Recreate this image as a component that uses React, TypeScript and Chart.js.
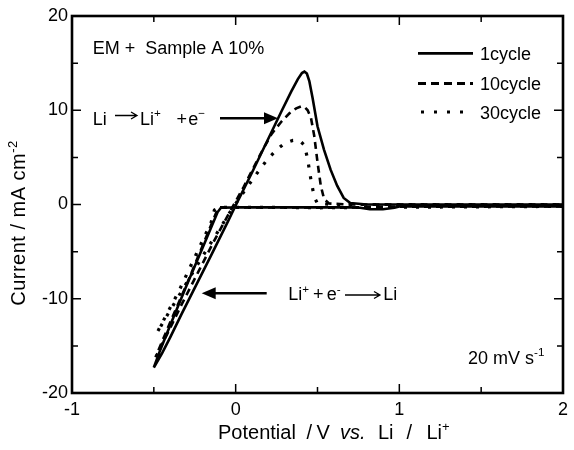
import React, { useEffect, useRef } from 'react';
import { Chart, registerables } from 'chart.js';

Chart.register(...registerables);

const FONT = '"Liberation Sans", Arial, Helvetica, sans-serif';

// 1 cycle (solid)
const potential1 = [2.0, 1.0, 0.97, 0.9, 0.82, 0.76, 0.7, 0.3, 0.0, -0.09, -0.11, -0.2, -0.3, -0.4, -0.46, -0.5, -0.45, -0.4, -0.33, -0.24, -0.15, -0.05, 0.0, 0.1, 0.2, 0.28, 0.34, 0.38, 0.405, 0.42, 0.435, 0.45, 0.47, 0.5, 0.54, 0.58, 0.62, 0.66, 0.7, 0.8, 2.0];
const current1 = [-0.2, -0.2, -0.35, -0.5, -0.5, -0.35, -0.3, -0.3, -0.3, -0.35, -0.8, -4.5, -8.6, -12.8, -15.4, -17.3, -15.8, -14.1, -11.6, -8.5, -5.4, -1.9, -0.1, 3.4, 7.0, 9.9, 12.0, 13.3, 13.95, 14.1, 13.9, 13.1, 11.3, 8.3, 5.8, 3.7, 2.0, 0.7, 0.15, 0.0, 0.0];

// 10 cycle (dashed)
const potential10 = [2.0, 0.9, 0.6, 0.3, 0.0, -0.1, -0.12, -0.2, -0.3, -0.4, -0.49, -0.42, -0.33, -0.23, -0.13, -0.03, 0.05, 0.15, 0.22, 0.28, 0.33, 0.37, 0.4, 0.42, 0.44, 0.46, 0.48, 0.5, 0.52, 0.54, 0.57, 0.7, 2.0];
const current10 = [-0.2, -0.25, -0.35, -0.3, -0.3, -0.3, -0.9, -4.3, -8.5, -12.5, -16.2, -13.8, -10.6, -7.2, -3.8, -0.6, 1.9, 5.3, 7.5, 8.8, 9.7, 10.2, 10.4, 10.35, 10.0, 9.2, 7.3, 4.5, 2.0, 0.6, 0.1, 0.0, 0.0];

// 30 cycle (dotted)
const potential30 = [2.0, 0.9, 0.5, 0.2, 0.0, -0.1, -0.13, -0.15, -0.25, -0.35, -0.42, -0.48, -0.42, -0.32, -0.22, -0.12, -0.02, 0.06, 0.13, 0.19, 0.25, 0.3, 0.35, 0.39, 0.42, 0.44, 0.46, 0.48, 0.5, 0.6, 2.0];
const current30 = [-0.2, -0.3, -0.35, -0.3, -0.3, -0.3, -0.6, -1.9, -5.6, -9.3, -11.6, -13.6, -11.8, -8.9, -6.0, -3.2, -0.4, 1.6, 3.3, 4.7, 5.8, 6.5, 6.8, 6.8, 6.3, 4.8, 2.6, 0.8, 0.1, 0.0, 0.0];

const seriesLabels = ['1cycle', '10cycle', '30cycle'];
const xTicksMinor = [-1, -0.5, 0, 0.5, 1, 1.5, 2];
const yTicksMinor = [-20, -15, -10, -5, 0, 5, 10, 15, 20];

const toPoints = (xs: number[], ys: number[]) => xs.map((x, i) => ({ x, y: ys[i] }));

type Part = [string, 'n' | 's' | 'i'];

function drawRich(ctx: CanvasRenderingContext2D, x: number, y: number, parts: Part[], size: number) {
  let cx = x;
  for (const [t, kind] of parts) {
    const s = kind === 's' ? size * 0.65 : size;
    ctx.font = `${kind === 'i' ? 'italic ' : ''}${s}px ${FONT}`;
    const yy = kind === 's' ? y - size * 0.4 : y;
    ctx.fillText(t, cx, yy);
    cx += ctx.measureText(t).width;
  }
  return cx;
}

function thinArrow(ctx: CanvasRenderingContext2D, x1: number, x2: number, y: number) {
  ctx.save();
  ctx.lineWidth = 1.3;
  ctx.setLineDash([]);
  ctx.beginPath();
  ctx.moveTo(x1, y);
  ctx.lineTo(x2, y);
  ctx.moveTo(x2 - 6, y - 3.5);
  ctx.lineTo(x2, y);
  ctx.lineTo(x2 - 6, y + 3.5);
  ctx.stroke();
  ctx.restore();
}

function thickArrow(ctx: CanvasRenderingContext2D, tail: number, tip: number, y: number) {
  const dir = tip > tail ? 1 : -1;
  ctx.save();
  ctx.setLineDash([]);
  ctx.lineWidth = 2.5;
  ctx.beginPath();
  ctx.moveTo(tail, y);
  ctx.lineTo(tip - dir * 10, y);
  ctx.stroke();
  ctx.beginPath();
  ctx.moveTo(tip, y);
  ctx.lineTo(tip - dir * 14, y - 6);
  ctx.lineTo(tip - dir * 14, y + 6);
  ctx.closePath();
  ctx.fill();
  ctx.restore();
}

const decorPlugin = {
  id: 'decor',
  afterDraw(chart: any) {
    const ctx: CanvasRenderingContext2D = chart.ctx;
    const { left, right, top, bottom } = chart.chartArea;
    const xs = chart.scales.x;
    const ys = chart.scales.y;
    ctx.save();
    ctx.strokeStyle = '#000';
    ctx.fillStyle = '#000';
    ctx.setLineDash([]);
    // frame
    ctx.lineWidth = 2.6;
    ctx.strokeRect(left, top, right - left, bottom - top);
    // ticks
    ctx.lineWidth = 1.5;
    ctx.beginPath();
    for (const v of xTicksMinor) {
      const px = xs.getPixelForValue(v);
      const len = Number.isInteger(v) ? 9 : 6;
      ctx.moveTo(px, bottom);
      ctx.lineTo(px, bottom - len);
      ctx.moveTo(px, top);
      ctx.lineTo(px, top + len);
    }
    for (const v of yTicksMinor) {
      const py = ys.getPixelForValue(v);
      const len = v % 10 === 0 ? 9 : 6;
      ctx.moveTo(left, py);
      ctx.lineTo(left + len, py);
      ctx.moveTo(right, py);
      ctx.lineTo(right - len, py);
    }
    ctx.stroke();

    ctx.textBaseline = 'alphabetic';
    ctx.textAlign = 'left';

    // x title
    const xt = 438.5;
    const tsz = 20;
    ctx.font = `${tsz}px ${FONT}`;
    ctx.fillText('Potential', 218, xt);
    ctx.fillText('/', 306.5, xt);
    ctx.fillText('V', 316.5, xt);
    ctx.font = `italic ${tsz}px ${FONT}`;
    ctx.fillText('vs.', 340, xt);
    ctx.font = `${tsz}px ${FONT}`;
    ctx.fillText('Li', 378, xt);
    ctx.fillText('/', 406.5, xt);
    drawRich(ctx, 426.5, xt, [['Li', 'n'], ['+', 's']], tsz);

    // y title
    ctx.save();
    ctx.translate(18, 223);
    ctx.rotate(-Math.PI / 2);
    (ctx as any).letterSpacing = '0.5px';
    const yParts: Part[] = [['Current / mA cm', 'n'], ['-2', 's']];
    let w = 0;
    for (const [t, k] of yParts) {
      ctx.font = `${k === 's' ? tsz * 0.65 : tsz}px ${FONT}`;
      w += ctx.measureText(t).width;
    }
    drawRich(ctx, -w / 2, 7, yParts, tsz);
    (ctx as any).letterSpacing = '0px';
    ctx.restore();

    // annotations
    const fs = 18;
    ctx.font = `${fs}px ${FONT}`;
    ctx.fillText('EM +  Sample A 10%', 92.7, 53.5);

    ctx.font = `${fs}px ${FONT}`;
    ctx.fillText('Li', 92.7, 124.5);
    thinArrow(ctx, 115, 137, 115.5);
    drawRich(ctx, 140, 124.5, [['Li', 'n'], ['+', 's']], fs);
    ctx.font = `${fs}px ${FONT}`;
    ctx.fillText('+', 176.5, 124.5);
    drawRich(ctx, 188.3, 124.5, [['e', 'n'], ['\u2212', 's']], fs);
    thickArrow(ctx, 220, 278, 118.3);

    drawRich(ctx, 288.3, 300, [['Li', 'n'], ['+', 's']], fs);
    ctx.font = `${fs}px ${FONT}`;
    ctx.fillText('+', 313, 300);
    drawRich(ctx, 326.7, 300, [['e', 'n'], ['-', 's']], fs);
    thinArrow(ctx, 345, 380, 295);
    ctx.font = `${fs}px ${FONT}`;
    ctx.fillText('Li', 383.3, 300);
    thickArrow(ctx, 266.7, 201.7, 293.3);

    drawRich(ctx, 468, 363.5, [['20 mV s', 'n'], ['-1', 's']], fs);

    // legend
    const legendRows = [
      { y: 53.3, dash: [] as number[], width: 2.8, x0: 418 },
      { y: 83.5, dash: [8, 5], width: 2.8, x0: 418 },
      { y: 112, dash: [3, 10], width: 3.2, x0: 421 },
    ];
    legendRows.forEach((r, i) => {
      ctx.save();
      ctx.lineWidth = r.width;
      ctx.setLineDash(r.dash);
      ctx.lineCap = 'butt';
      ctx.beginPath();
      ctx.moveTo(r.x0, r.y);
      ctx.lineTo(473, r.y);
      ctx.stroke();
      ctx.restore();
      ctx.font = `18px ${FONT}`;
      ctx.textBaseline = 'middle';
      ctx.fillText(seriesLabels[i], 480, r.y + 2);
      ctx.textBaseline = 'alphabetic';
    });

    ctx.restore();
  },
};

export default function App() {
  const canvasRef = useRef<HTMLCanvasElement | null>(null);

  useEffect(() => {
    if (!canvasRef.current) return;
    const chart = new Chart(canvasRef.current, {
      type: 'scatter',
      data: {
        datasets: [
          {
            label: seriesLabels[0],
            data: toPoints(potential1, current1),
            showLine: true,
            borderColor: '#000',
            borderWidth: 2.6,
            pointRadius: 0,
            tension: 0,
          },
          {
            label: seriesLabels[1],
            data: toPoints(potential10, current10),
            showLine: true,
            borderColor: '#000',
            borderWidth: 2.6,
            borderDash: [7, 5],
            pointRadius: 0,
            tension: 0,
          },
          {
            label: seriesLabels[2],
            data: toPoints(potential30, current30),
            showLine: true,
            borderColor: '#000',
            borderWidth: 3.2,
            borderDash: [3, 9],
            pointRadius: 0,
            tension: 0,
          },
        ],
      },
      options: {
        animation: false,
        responsive: false,
        events: [],
        layout: { padding: { top: 16, right: 6, left: 0, bottom: 0 } },
        plugins: {
          legend: { display: false },
          tooltip: { enabled: false },
        },
        scales: {
          x: {
            type: 'linear',
            min: -1,
            max: 2,
            grid: { display: false, drawTicks: false },
            border: { display: false },
            ticks: {
              stepSize: 1,
              color: '#000',
              padding: 6,
              font: { family: FONT, size: 18 },
            },
            afterFit: (s: any) => {
              s.height = 57;
            },
          },
          y: {
            type: 'linear',
            min: -20,
            max: 20,
            grid: { display: false, drawTicks: false },
            border: { display: false },
            ticks: {
              stepSize: 10,
              color: '#000',
              padding: 4,
              font: { family: FONT, size: 18 },
            },
            afterFit: (s: any) => {
              s.width = 72;
            },
          },
        },
      },
      plugins: [decorPlugin],
    });
    return () => chart.destroy();
  }, []);

  return (
    <div style={{ position: 'absolute', left: 0, top: 0, width: 574, height: 450, background: '#fff' }}>
      <canvas ref={canvasRef} width={574} height={450} />
    </div>
  );
}
